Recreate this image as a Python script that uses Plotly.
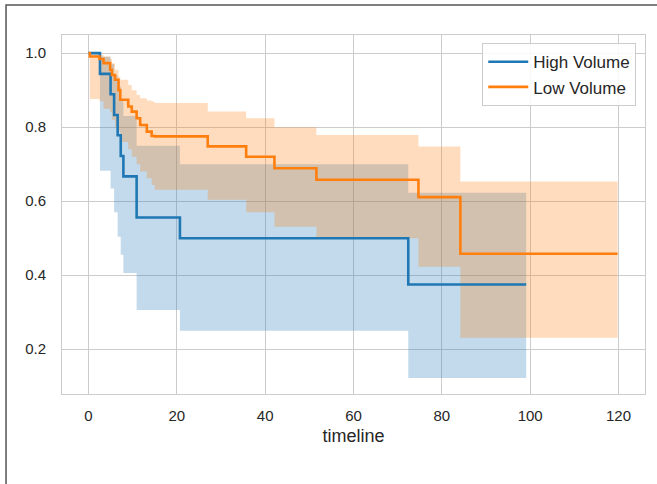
import plotly.graph_objects as go

# Kaplan-Meier survival estimates with 95% confidence bands
hv_time = [0, 2.6, 5.0, 5.8, 6.6, 7.3, 7.9, 10.9, 20.7, 72.4, 99.1]
hv_surv = [1.0, 0.944, 0.889, 0.833, 0.778, 0.722, 0.667, 0.556, 0.500, 0.375, 0.375]
hv_upper = [1.0, 0.99, 0.97, 0.94, 0.91, 0.87, 0.83, 0.75, 0.70, 0.623, 0.623]
hv_lower = [1.0, 0.682, 0.634, 0.57, 0.504, 0.455, 0.406, 0.306, 0.25, 0.122, 0.122]

lv_time = [0, 0.3, 2.5, 3.4, 4.9, 5.3, 6.0, 6.8, 7.2, 9.0, 9.8, 10.9, 11.7, 13.2, 14.3,
           15.0, 27.0, 35.7, 42.1, 51.6, 74.7, 84.2, 119.8]
lv_surv = [1.0, 0.991, 0.984, 0.973, 0.955, 0.941, 0.928, 0.90, 0.874, 0.856, 0.842, 0.824,
           0.806, 0.788, 0.776, 0.775, 0.748, 0.72, 0.689, 0.658, 0.611, 0.458, 0.458]
lv_upper = [1.0, 1.0, 0.995, 0.991, 0.985, 0.973, 0.955, 0.937, 0.928, 0.914, 0.90, 0.887,
            0.878, 0.872, 0.869, 0.865, 0.842, 0.824, 0.80, 0.779, 0.748, 0.653, 0.653]
lv_lower = [1.0, 0.876, 0.87, 0.85, 0.84, 0.82, 0.80, 0.79, 0.76, 0.74, 0.72, 0.70,
            0.68, 0.662, 0.644, 0.631, 0.604, 0.57, 0.531, 0.50, 0.423, 0.231, 0.231]

series = [
    ("High Volume", hv_time, hv_surv, hv_upper, hv_lower, "#1f77b4", "rgba(31,119,180,0.27)"),
    ("Low Volume", lv_time, lv_surv, lv_upper, lv_lower, "#ff7f0e", "rgba(255,127,14,0.27)"),
]

x_ticks = [0, 20, 40, 60, 80, 100, 120]
y_ticks = [0.2, 0.4, 0.6, 0.8, 1.0]

fig = go.Figure()

for name, t, s, up, lo, color, fill in series:
    fig.add_trace(go.Scatter(x=t, y=up, mode="lines", line=dict(width=0, shape="hv"),
                             hoverinfo="skip", showlegend=False))
    fig.add_trace(go.Scatter(x=t, y=lo, mode="lines", line=dict(width=0, shape="hv"),
                             fill="tonexty", fillcolor=fill, hoverinfo="skip", showlegend=False))

for name, t, s, up, lo, color, fill in series:
    fig.add_trace(go.Scatter(x=t, y=s, mode="lines", name=name,
                             line=dict(color=color, width=2.6, shape="hv")))

font_family = "Liberation Sans, Arial, sans-serif"
grid = "#cccccc"

fig.update_layout(
    width=657, height=484,
    margin=dict(l=62, r=12, t=35, b=90),
    paper_bgcolor="white", plot_bgcolor="white",
    font=dict(family=font_family, size=15, color="#262626"),
    legend=dict(x=0.985, y=0.977, xanchor="right", yanchor="top", traceorder="normal",
                bgcolor="rgba(255,255,255,0.85)", bordercolor=grid, borderwidth=1,
                font=dict(size=17), itemwidth=40, tracegroupgap=0),
    shapes=[dict(type="rect", xref="paper", yref="paper",
                 x0=-0.096, x1=1.2, y0=-0.5, y1=1.0836,
                 line=dict(color="#555555", width=1.5), layer="below")],
)
fig.update_xaxes(range=[-6, 126], tickvals=x_ticks, showgrid=True, gridcolor=grid, gridwidth=1,
                 showline=True, linecolor=grid, mirror=True, zeroline=False,
                 ticklabelstandoff=8, title=dict(text="timeline", standoff=6))
fig.update_yaxes(range=[0.079, 1.049], tickvals=y_ticks, tickformat=".1f", showgrid=True,
                 gridcolor=grid, gridwidth=1, showline=True, linecolor=grid, mirror=True,
                 zeroline=False, ticklabelstandoff=12)

fig.write_html("out.html")
